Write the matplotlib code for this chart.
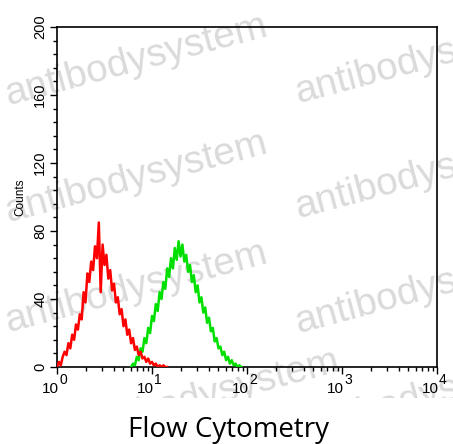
import numpy as np
import matplotlib
matplotlib.use("Agg")
import matplotlib.pyplot as plt
from matplotlib.ticker import MultipleLocator, LogLocator, NullFormatter
from matplotlib.patches import Rectangle

# ---- data (log10 of channel, counts) ----
red_logx = [0.00,0.02,0.04,0.06,0.08,0.10,0.12,0.14,0.16,0.18,0.20,0.22,0.24,0.26,0.28,0.30,
            0.32,0.34,0.36,0.38,0.40,0.42,0.44,0.46,0.48,0.50,0.52,0.54,0.56,0.58,0.60,0.62,
            0.64,0.66,0.68,0.70,0.72,0.74,0.76,0.78,0.80,0.82,0.84,0.86,0.88,0.90,0.92,0.94,
            0.96,0.98,1.00,1.02,1.04,1.06,1.08,1.10,1.12,1.14,1.16]
red_counts = [0,3,1,6,9,7,14,11,19,16,25,22,31,28,44,38,
              55,50,62,57,71,64,85,44,72,60,66,52,57,45,49,38,
              41,31,34,24,28,19,22,14,17,10,12,7,9,5,6,3,
              5,2,3,1,2,0,1,0,1,0,0]

green_logx = [0.78,0.80,0.82,0.84,0.86,0.88,0.90,0.92,0.94,0.96,0.98,1.00,1.02,1.04,1.06,1.08,
              1.10,1.12,1.14,1.16,1.18,1.20,1.22,1.24,1.26,1.28,1.30,1.32,1.34,1.36,1.38,1.40,
              1.42,1.44,1.46,1.48,1.50,1.52,1.54,1.56,1.58,1.60,1.62,1.64,1.66,1.68,1.70,1.72,
              1.74,1.76,1.78,1.80,1.82,1.84,1.86,1.88,1.90,1.92,1.94]
green_counts = [0,2,1,6,4,11,9,17,14,23,20,30,27,37,33,44,
                40,50,46,58,53,64,58,70,63,74,65,72,62,66,56,60,
                50,54,44,48,38,41,32,35,26,29,21,23,15,17,11,12,
                7,9,4,6,2,4,1,2,0,1,0]

y_ticks = [0, 40, 80, 120, 160, 200]
x_ticks = [1, 10, 100, 1000, 10000]
x_exponents = ["0", "1", "2", "3", "4"]

W, H = 453, 444
fig = plt.figure(figsize=(W/100, H/100), dpi=100)
plt.rcParams['font.family'] = ['Liberation Sans', 'DejaVu Sans']

ax = fig.add_axes([57/W, 1-367/H, (437-57)/W, (367-27)/H])
ax.set_zorder(2)
ax.patch.set_alpha(0)

rx = [10**v for v in red_logx]
gx = [10**v for v in green_logx]
ax.plot(gx, green_counts, color='#00e000', lw=1.8, zorder=3)
ax.plot(rx, red_counts, color='#ff0000', lw=1.8, zorder=4)

ax.set_xscale('log')
ax.set_xlim(1, 10000)
ax.set_ylim(0, 200)
ax.set_xticks(x_ticks)
ax.set_xticklabels([""] * len(x_ticks))
ax.xaxis.set_minor_locator(LogLocator(base=10, subs=np.arange(2, 10)))
ax.xaxis.set_minor_formatter(NullFormatter())
ax.set_yticks(y_ticks)
ax.set_yticklabels([str(v) for v in y_ticks], rotation=90, va='center')
ax.yaxis.set_minor_locator(MultipleLocator(8))
ax.tick_params(axis='both', which='major', direction='out', length=5, width=1, labelsize=10.5, color='black')
ax.tick_params(axis='both', which='minor', direction='out', length=3, width=1)
ax.tick_params(axis='y', pad=2)
for s in ax.spines.values():
    s.set_linewidth(1.2)
ax.set_ylabel("Counts", fontsize=8.5, labelpad=5)

# x tick labels: "10" with large superscript exponent
for xv, ex in zip(x_ticks, x_exponents):
    ax.annotate("10", xy=(xv, 0), xycoords=('data', 'axes fraction'),
                xytext=(1.5, -19), textcoords='offset points',
                ha='right', va='baseline', fontsize=11)
    ax.annotate(ex, xy=(xv, 0), xycoords=('data', 'axes fraction'),
                xytext=(1.5, -12.5), textcoords='offset points',
                ha='left', va='baseline', fontsize=10)

# watermark
wm = dict(fontsize=28, color='#dadada', rotation=15, rotation_mode='anchor',
          ha='left', va='baseline', zorder=1, family='Liberation Sans')
fig.text(8/W, 1-105/H, "antibodysystem", **wm)
fig.text(8/W, 1-222/H, "antibodysystem", **wm)
fig.text(8/W, 1-332/H, "antibodysystem", **wm)
fig.text(298/W, 1-103/H, "antibodys", **wm)
fig.text(298/W, 1-218/H, "antibodys", **wm)
fig.text(298/W, 1-333/H, "antibodys", **wm)
fig.text(80/W, 1-440/H, "antibodysystem", **wm)
fig.text(300/W, 1-440/H, "antibodys", **wm)

# bottom band
fig.patches.append(Rectangle((0, 0), 1, 1-398/H, transform=fig.transFigure,
                             facecolor='white', edgecolor='none', zorder=5))
fig.text(229/W, 1-437/H, "Flow Cytometry", ha='center', va='baseline',
         fontsize=20, family='Open Sans', zorder=6)

fig.savefig("out.png", dpi=100)
